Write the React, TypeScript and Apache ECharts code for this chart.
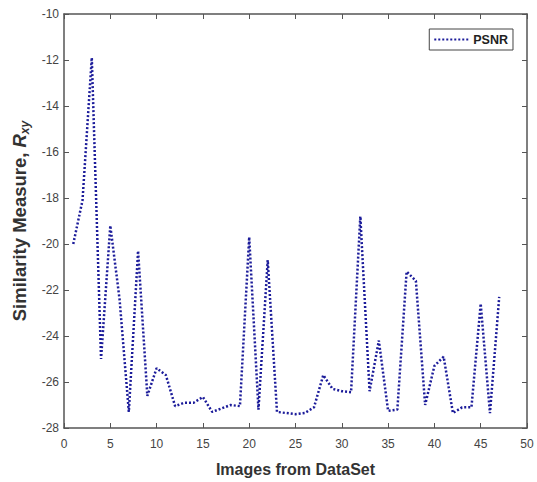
import React, { useEffect, useRef } from "react";
import * as echarts from "echarts";

const imageIndex = [1,2,3,4,5,6,7,8,9,10,11,12,13,14,15,16,17,18,19,20,21,22,23,24,25,26,27,28,29,30,31,32,33,34,35,36,37,38,39,40,41,42,43,44,45,46,47];
const psnr = [-20.0,-18.1,-11.9,-25.0,-19.2,-22.4,-27.3,-20.3,-26.6,-25.4,-25.7,-27.05,-26.9,-26.9,-26.65,-27.3,-27.15,-27.0,-27.05,-19.7,-27.2,-20.7,-27.3,-27.35,-27.4,-27.35,-27.1,-25.7,-26.3,-26.4,-26.45,-18.8,-26.4,-24.2,-27.25,-27.2,-21.2,-21.6,-27.0,-25.3,-24.9,-27.35,-27.1,-27.1,-22.6,-27.35,-22.3];
const xTicks = { min: 0, max: 50, interval: 5 };
const yTicks = { min: -28, max: -10, interval: 2 };

export default function App() {
  const ref = useRef<HTMLDivElement>(null);
  useEffect(() => {
    if (!ref.current) return;
    const chart = echarts.init(ref.current, null, { renderer: "svg" });
    const axisColor = "#555";
    const font = "Liberation Sans, Arial, sans-serif";
    const labelStyle = { color: "#444", fontSize: 12, fontFamily: font };
    const lineColor = "#1c1c9a";
    chart.setOption({
      animation: false,
      backgroundColor: "#fff",
      grid: { left: 64, top: 14, width: 463, height: 415, containLabel: false },
      legend: {
        right: 24, top: 29,
        itemWidth: 34, itemHeight: 14, itemGap: 4,
        padding: [4, 5, 4, 4],
        borderColor: "#444", borderWidth: 1, backgroundColor: "#fff",
        textStyle: { fontWeight: "bold", fontSize: 12.5, color: "#222", fontFamily: font },
        itemStyle: { opacity: 0 },
        lineStyle: { color: lineColor, width: 2, type: [2, 2] },
        data: ["PSNR"],
      },
      xAxis: [
        {
          type: "value", min: xTicks.min, max: xTicks.max, interval: xTicks.interval,
          position: "bottom",
          name: "Images from DataSet", nameLocation: "middle", nameGap: 33,
          nameTextStyle: { fontWeight: "bold", fontSize: 16, color: "#333", fontFamily: font },
          axisLine: { show: true, onZero: false, lineStyle: { color: axisColor, width: 1.5 } },
          axisTick: { show: true, inside: true, length: 5, lineStyle: { color: axisColor } },
          axisLabel: { ...labelStyle, margin: 10 },
          splitLine: { show: false },
        },
        {
          type: "value", min: xTicks.min, max: xTicks.max, interval: xTicks.interval,
          position: "top",
          axisLine: { show: true, onZero: false, lineStyle: { color: axisColor, width: 1.5 } },
          axisTick: { show: true, inside: true, length: 5, lineStyle: { color: axisColor } },
          axisLabel: { show: false },
          splitLine: { show: false },
        },
      ],
      yAxis: [
        {
          type: "value", min: yTicks.min, max: yTicks.max, interval: yTicks.interval,
          position: "left",
          name: "{b|Similarity Measure, }{r|R}{s|xy}",
          nameLocation: "middle", nameGap: 32, nameRotate: 90,
          nameTextStyle: {
            rich: {
              b: { fontWeight: "bold", fontSize: 18.5, color: "#333", fontFamily: font },
              r: { fontWeight: "bold", fontStyle: "italic", fontSize: 18.5, color: "#333", fontFamily: font },
              s: { fontWeight: "bold", fontStyle: "italic", fontSize: 12, color: "#333", fontFamily: font, verticalAlign: "bottom", padding: [10, 0, 0, 0] },
            },
          },
          axisLine: { show: true, onZero: false, lineStyle: { color: axisColor, width: 1.5 } },
          axisTick: { show: true, inside: true, length: 5, lineStyle: { color: axisColor } },
          axisLabel: { ...labelStyle, margin: 5 },
          splitLine: { show: false },
        },
        {
          type: "value", min: yTicks.min, max: yTicks.max, interval: yTicks.interval,
          position: "right",
          axisLine: { show: true, onZero: false, lineStyle: { color: axisColor, width: 1.5 } },
          axisTick: { show: true, inside: true, length: 5, lineStyle: { color: axisColor } },
          axisLabel: { show: false },
          splitLine: { show: false },
        },
      ],
      series: [
        {
          name: "PSNR",
          type: "line",
          data: imageIndex.map((x, i) => [x, psnr[i]]),
          showSymbol: false,
          symbol: "none",
          lineStyle: { color: lineColor, width: 2.5, type: [2, 2] },
          itemStyle: { color: lineColor },
        },
      ],
    });
    return () => chart.dispose();
  }, []);
  return <div ref={ref} style={{ position: "absolute", left: 0, top: 0, width: 537, height: 482 }} />;
}
